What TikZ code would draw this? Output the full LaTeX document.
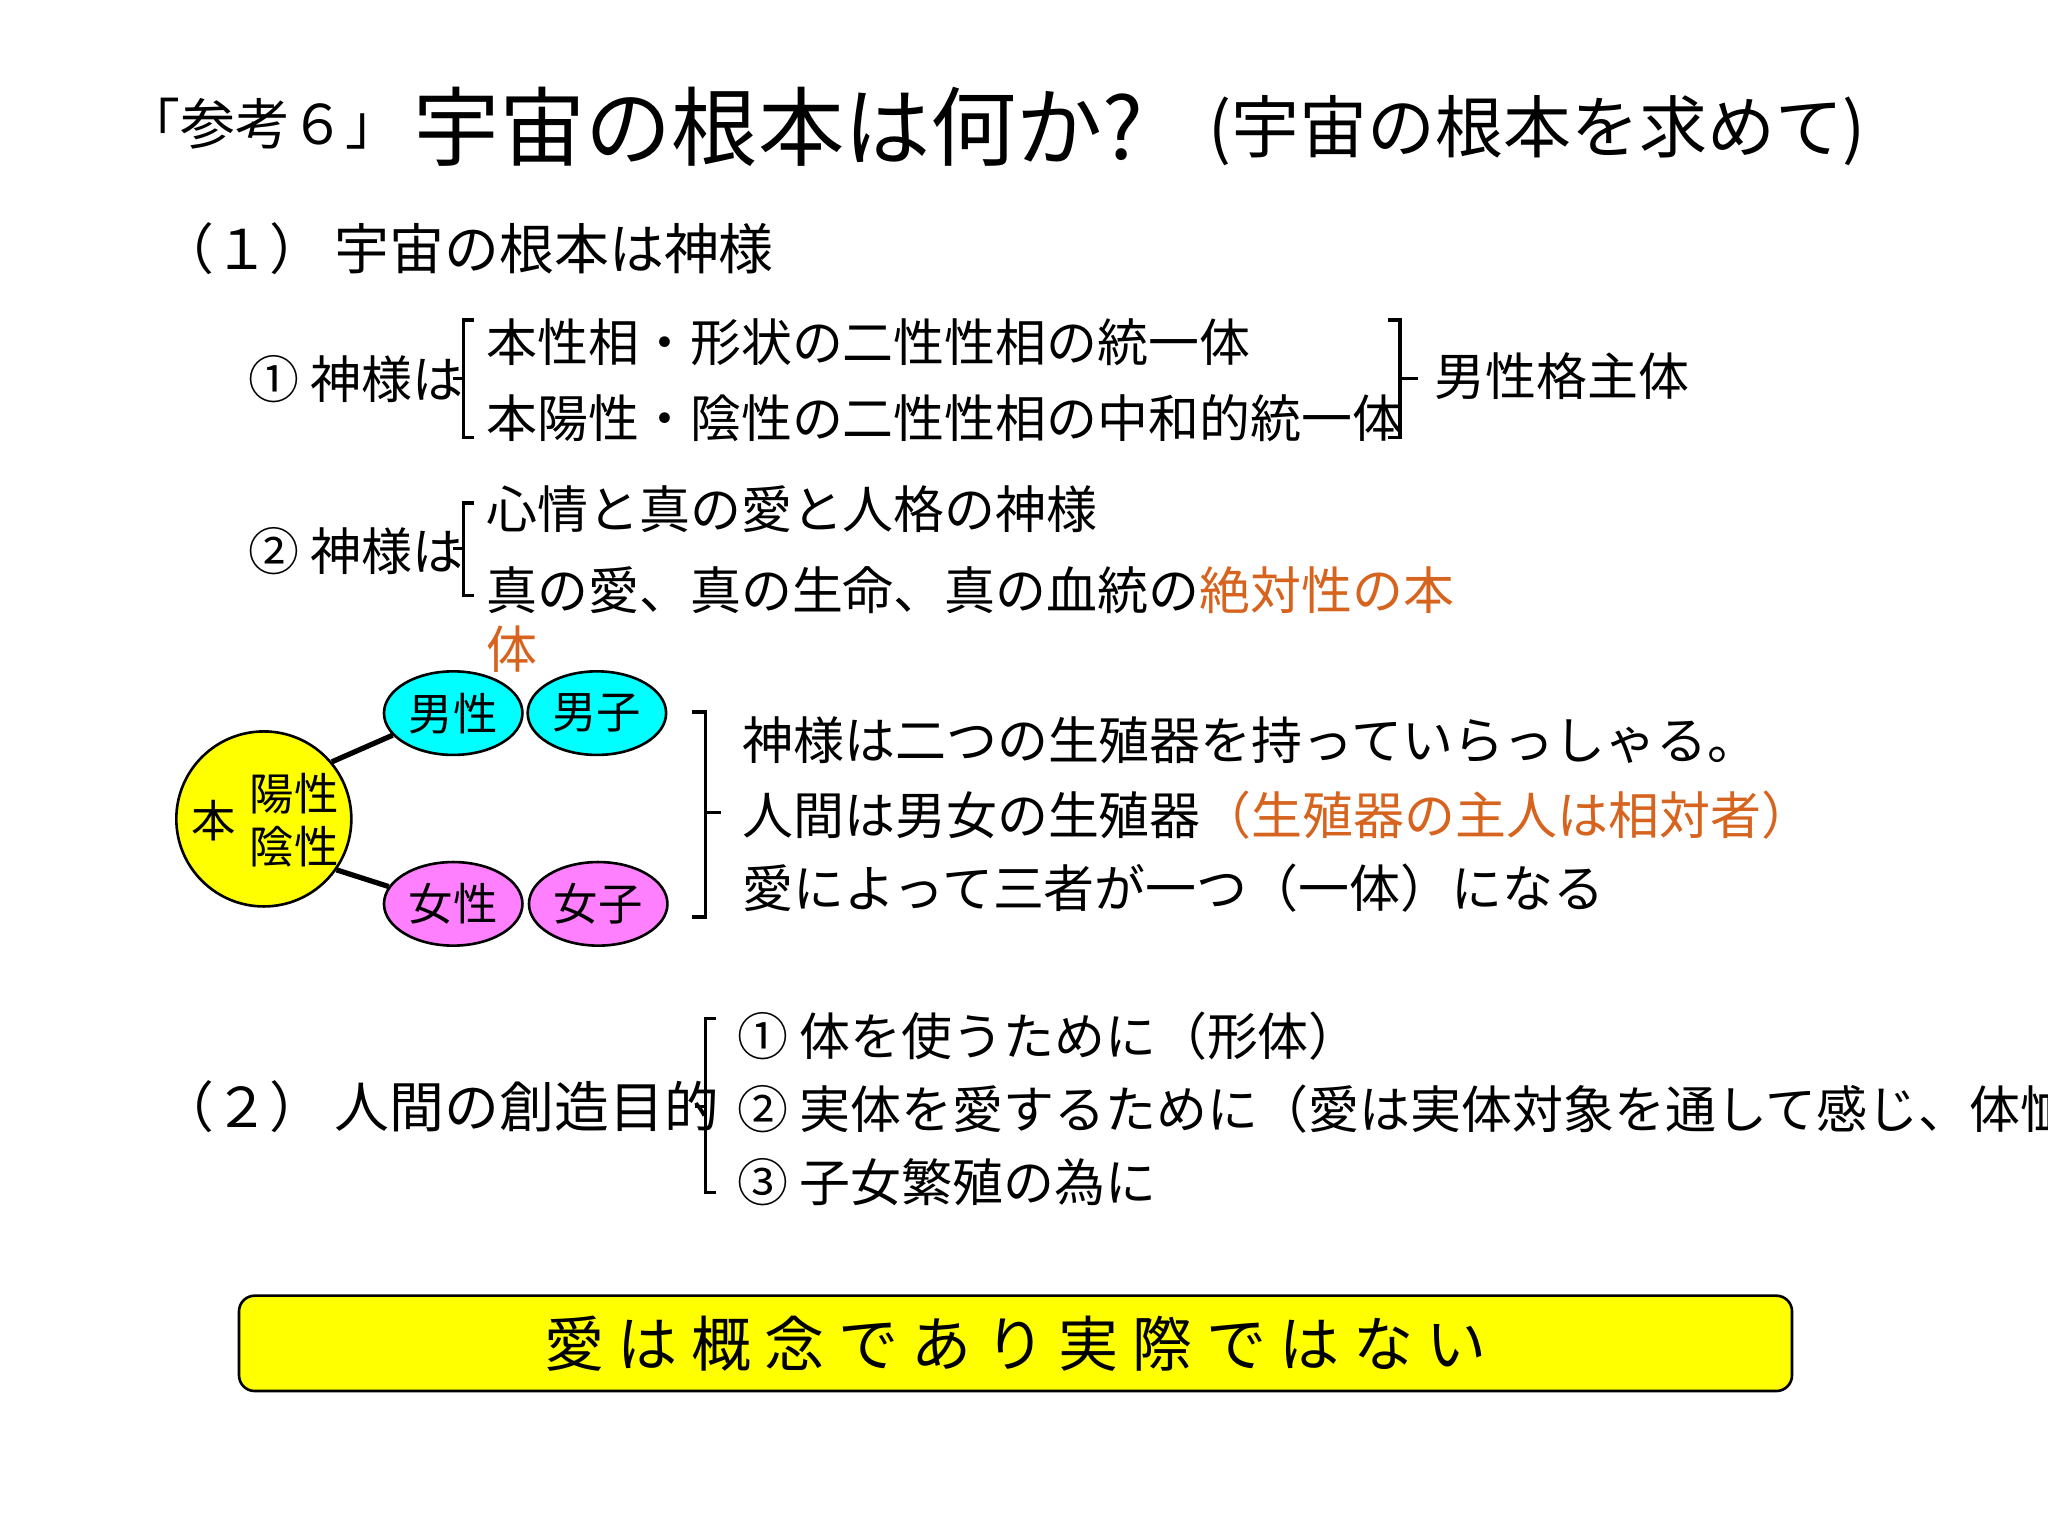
\documentclass[tikz,border=0pt]{standalone}
\usepackage{fontspec}
\usetikzlibrary{shapes.geometric}
\setmainfont{Noto Sans CJK JP}
\definecolor{orng}{RGB}{214,100,30}
\definecolor{pinkf}{RGB}{255,128,255}
\definecolor{cyf}{RGB}{0,255,255}
\definecolor{yelf}{RGB}{255,255,0}
\begin{document}
\begin{tikzpicture}[x=0.5pt,y=-0.5pt,
 t/.style={anchor=west,inner sep=0pt},
 brk/.style={line width=1.3pt},
 ell/.style={ellipse,draw,line width=1pt,minimum width=53pt,minimum height=32pt,inner sep=0pt,font=\fontsize{17}{17}\selectfont}]
\useasboundingbox (0,0) rectangle (1568,1176);
\fill[white] (0,0) rectangle (1568,1176);
\node[t,font=\fontsize{21}{21}\selectfont] (t0) at (96,95) {「参考６」};
\node[t,font=\fontsize{33}{33}\selectfont] (t1) at (316,97) {宇宙の根本は何か?};
\node[t,font=\fontsize{26}{26}\selectfont] (t2) at (925,100) {(宇宙の根本を求めて)};
\node[t,font=\fontsize{21}{21}\selectfont] (h1) at (122,190) {（１）\hspace{4pt}宇宙の根本は神様};
\begin{scope}[font=\fontsize{19.5}{19.5}\selectfont]
\node[t] (a0) at (190,290) {①\ 神様は};
\node[t] (a1) at (372,262) {本性相・形状の二性性相の統一体};
\node[t] (a2) at (372,320) {本陽性・陰性の二性性相の中和的統一体};
\node[t] (a3) at (1098,288) {男性格主体};
\node[t] (b0) at (190,422) {②\ 神様は};
\node[t] (b1) at (372,390) {心情と真の愛と人格の神様};
\node[t] (b2) at (372,452) {真の愛、真の生命、真の血統の\textcolor{orng}{絶対性の本}};
\node[t,text=orng] (b3) at (372,497) {体};
\end{scope}
\draw[brk] (363,245) -- (355,245) -- (355,335) -- (363,335);
\draw[brk] (355,290) -- (347,290);
\draw[brk] (1063,245) -- (1072,245) -- (1072,335) -- (1063,335);
\draw[brk] (1072,290) -- (1086,290);
\draw[brk] (363,385) -- (355,385) -- (355,456) -- (363,456);
\draw[brk] (355,420) -- (347,420);
\node[circle,draw,line width=1pt,fill=yelf,minimum size=67pt,inner sep=0pt] (c) at (202,627) {};
\node[t,font=\fontsize{17}{17}\selectfont] (cb) at (146,628) {本};
\node[t,font=\fontsize{17}{20}\selectfont,align=left] (cy) at (191,628) {陽性\\陰性};
\node[ell,fill=cyf] (m1) at (347,546) {男性};
\node[ell,fill=cyf] (m2) at (457,546) {男子};
\node[ell,fill=pinkf] (f1) at (347,692) {女性};
\node[ell,fill=pinkf] (f2) at (458,692) {女子};
\draw[line width=2pt] (c.40) -- (m1.200);
\draw[line width=2pt] (c.-35) -- (f1.165);
\draw[brk] (530,545) -- (540,545) -- (540,702) -- (530,702);
\draw[brk] (540,622) -- (552,622);
\begin{scope}[font=\fontsize{19.5}{19.5}\selectfont]
\node[t] (r1) at (568,567) {神様は二つの生殖器を持っていらっしゃる。};
\node[t] (r2) at (568,624) {人間は男女の生殖器\textcolor{orng}{（生殖器の主人は相対者）}};
\node[t] (r3) at (568,680) {愛によって三者が一つ（一体）になる};
\node[t] (s1) at (564,793) {①\ 体を使うために（形体）};
\node[t] (s2) at (564,849) {②\ 実体を愛するために（愛は実体対象を通して感じ、体恤する）};
\node[t] (s3) at (564,905) {③\ 子女繁殖の為に};
\end{scope}
\node[t,font=\fontsize{21}{21}\selectfont] (h2) at (122,847) {（２）\hspace{4pt}人間の創造目的};
\draw[brk] (548,780) -- (540,780) -- (540,913) -- (548,913);
\draw[brk] (540,847) -- (532,847);
\node[draw,line width=1pt,fill=yelf,rounded corners=6pt,minimum width=594.5pt,minimum height=36.5pt,inner sep=0pt,font=\fontsize{23}{23}\selectfont] (box) at (777.5,1028.5) {愛\ は\ 概\ 念\ で\ あ\ り\ 実\ 際\ で\ は\ な\ い};
\end{tikzpicture}
\end{document}
